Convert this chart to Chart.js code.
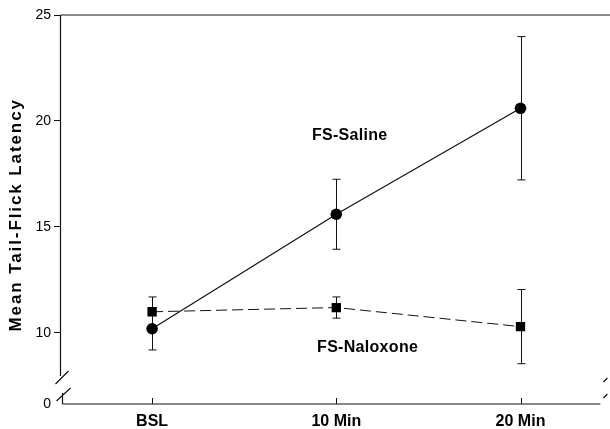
<!DOCTYPE html>
<html>
<head>
<meta charset="utf-8">
<script src="https://cdn.jsdelivr.net/npm/chart.js@4.4.1/dist/chart.umd.min.js"></script>
<style>
  html, body { margin: 0; padding: 0; background: #fff; }
  #wrap { width: 610px; height: 429px; position: relative; }
</style>
</head>
<body>
<div id="wrap"><canvas id="c"></canvas></div>
<script>
// Time points and group means (with error-bar half-widths)
const categories = ['BSL', '10 Min', '20 Min'];
const salineMeans = [10.2, 15.6, 20.6];
const salineErr = [1.0, 1.65, 3.38];
const naloxoneMeans = [11.0, 11.2, 10.3];
const naloxoneErr = [0.7, 0.5, 1.75];
const yTickValues = [10, 15, 20, 25];
const yBreakValue = 6.65;   // bottom of the broken axis, labelled "0"
const yZeroLabel = '0';
const groupLabels = ['FS-Saline', 'FS-Naloxone'];

const FONT = '"Liberation Sans", Arial, Helvetica, sans-serif';

const toPoints = arr => arr.map((v, i) => ({ x: i, y: v }));

// Error bars, axis breaks, frame and group labels
const decorations = {
  id: 'decorations',
  beforeDatasetsDraw(chart) {
    const { ctx, scales: { x, y } } = chart;
    ctx.save();
    ctx.strokeStyle = '#111';
    ctx.lineWidth = 1;
    const cap = 4;
    [[salineMeans, salineErr], [naloxoneMeans, naloxoneErr]].forEach(([m, e]) => {
      m.forEach((v, i) => {
        const px = Math.round(x.getPixelForValue(i)) + 0.5;
        const top = y.getPixelForValue(v + e[i]);
        const bot = y.getPixelForValue(v - e[i]);
        ctx.beginPath();
        ctx.moveTo(px, top); ctx.lineTo(px, bot);
        ctx.moveTo(px - cap, top); ctx.lineTo(px + cap, top);
        ctx.moveTo(px - cap, bot); ctx.lineTo(px + cap, bot);
        ctx.stroke();
      });
    });
    ctx.restore();
  },
  afterDraw(chart) {
    const { ctx, chartArea: a, scales: { x, y } } = chart;
    ctx.save();
    ctx.strokeStyle = '#111';
    ctx.lineWidth = 1.2;
    const ax = a.left + 0.5;
    const bottom = a.bottom;
    // top frame line
    ctx.beginPath();
    ctx.moveTo(ax, a.top); ctx.lineTo(chart.width, a.top);
    // broken y axis
    ctx.moveTo(ax, a.top); ctx.lineTo(ax, bottom - 28);
    ctx.moveTo(ax + 2, bottom - 11); ctx.lineTo(ax + 2, bottom);
    // break slashes on the y axis
    ctx.moveTo(ax - 5, bottom - 20); ctx.lineTo(ax + 8, bottom - 33);
    ctx.moveTo(ax - 4, bottom - 3); ctx.lineTo(ax + 10, bottom - 16);
    // x axis
    ctx.moveTo(ax + 2, bottom); ctx.lineTo(a.right - 3, bottom);
    // right-hand break marks
    ctx.moveTo(a.right, bottom - 22); ctx.lineTo(a.right + 4, bottom - 26);
    ctx.moveTo(a.right, bottom - 6); ctx.lineTo(a.right + 4, bottom - 10);
    ctx.stroke();
    // x tick marks pointing up into the plot
    ctx.lineWidth = 1;
    categories.forEach((c, i) => {
      const px = Math.round(x.getPixelForValue(i)) + 0.5;
      ctx.beginPath();
      ctx.moveTo(px, bottom); ctx.lineTo(px, bottom - 6);
      ctx.stroke();
    });
    // y axis title
    ctx.fillStyle = '#000';
    ctx.font = 'bold 17px ' + FONT;
    ctx.letterSpacing = '1.9px';
    ctx.textAlign = 'center';
    ctx.textBaseline = 'middle';
    ctx.translate(16, (y.getPixelForValue(10) + y.getPixelForValue(21.15)) / 2);
    ctx.rotate(-Math.PI / 2);
    ctx.fillText('Mean Tail-Flick Latency', 0, 0);
    ctx.restore();

    // group labels
    ctx.save();
    ctx.fillStyle = '#000';
    ctx.font = 'bold 16px ' + FONT;
    ctx.letterSpacing = '0.3px';
    ctx.textAlign = 'center';
    ctx.textBaseline = 'middle';
    ctx.fillText(groupLabels[0], x.getPixelForValue(1.073), y.getPixelForValue(19.3));
    ctx.fillText(groupLabels[1], x.getPixelForValue(1.17), y.getPixelForValue(9.29));
    ctx.restore();
  }
};

new Chart(document.getElementById('c'), {
  type: 'line',
  data: {
    datasets: [
      {
        label: groupLabels[0],
        data: toPoints(salineMeans),
        borderColor: '#111',
        backgroundColor: '#000',
        borderWidth: 1.2,
        pointStyle: 'circle',
        pointRadius: 5.8,
        pointBorderWidth: 0,
        tension: 0
      },
      {
        label: groupLabels[1],
        data: toPoints(naloxoneMeans),
        borderColor: '#111',
        backgroundColor: '#000',
        borderWidth: 1,
        borderDash: [11, 5],
        pointStyle: 'rect',
        pointRadius: 6.6,
        pointBorderWidth: 0,
        tension: 0
      }
    ]
  },
  options: {
    responsive: true,
    maintainAspectRatio: false,
    animation: false,
    layout: { padding: { top: 15, right: 6, left: 0, bottom: 0 } },
    plugins: { legend: { display: false }, tooltip: { enabled: false } },
    scales: {
      x: {
        type: 'linear',
        min: -0.5,
        max: 2.45,
        afterBuildTicks: s => { s.ticks = categories.map((c, i) => ({ value: i })); },
        afterFit: s => { s.height = 25; },
        grid: { display: false, drawTicks: false },
        border: { display: false },
        ticks: {
          callback: v => categories[v],
          color: '#000',
          padding: 8,
          maxRotation: 0,
          font: { family: FONT, size: 16, weight: 'bold' }
        }
      },
      y: {
        type: 'linear',
        min: yBreakValue,
        max: 25,
        afterBuildTicks: s => { s.ticks = [yBreakValue, ...yTickValues].map(v => ({ value: v })); },
        afterFit: s => { s.width = 60; },
        grid: {
          drawOnChartArea: false,
          tickLength: 6,
          color: c => (c.tick && c.tick.value === yBreakValue) ? 'rgba(0,0,0,0)' : '#111'
        },
        border: { display: false },
        ticks: {
          callback: v => v === yBreakValue ? yZeroLabel : String(v),
          color: '#000',
          padding: 3,
          font: { family: FONT, size: 14 }
        }
      }
    }
  },
  plugins: [decorations]
});
</script>
</body>
</html>
